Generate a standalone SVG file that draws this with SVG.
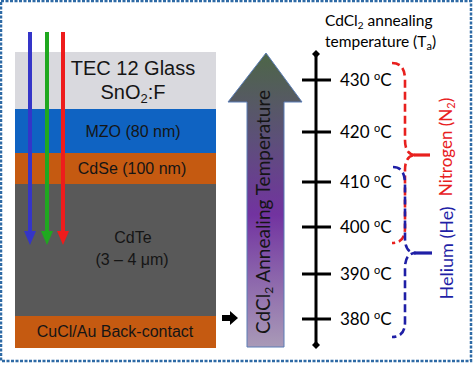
<svg xmlns="http://www.w3.org/2000/svg" width="474" height="365" viewBox="0 0 474 365">
<defs>
<linearGradient id="ag" gradientUnits="userSpaceOnUse" x1="0" y1="53" x2="0" y2="347">
<stop offset="0" stop-color="#4d6647"/>
<stop offset="0.3" stop-color="#5d4f7a"/>
<stop offset="0.55" stop-color="#7233a0"/>
<stop offset="0.75" stop-color="#8a62ab"/>
<stop offset="1" stop-color="#a99ab7"/>
</linearGradient>
</defs>
<style>
.lay{font-family:"Liberation Sans",Arial,sans-serif;fill:#151515;text-anchor:middle}
.cal{font-family:Lato,"Open Sans",sans-serif}
.tick{stroke:#000;stroke-width:3}
.lbl{font-family:Lato,"Open Sans",sans-serif;font-size:17px;fill:#000}
.brace{fill:none;stroke-width:2.6;stroke-dasharray:8 4}
.stub{stroke-width:3.2}
</style>
<rect x="1" y="1" width="470" height="360" fill="#fff" stroke="#2e6aa5" stroke-width="2.5" stroke-dasharray="3 1.5"/>

<g id="layer-glass">
<rect x="15" y="52" width="201" height="57" fill="#d9d9de"/>
<text class="lay" x="133" y="75" font-size="20">TEC 12 Glass</text>
<text class="lay" x="133" y="99" font-size="20">SnO<tspan font-size="13" dy="4">2</tspan><tspan dy="-4">:F</tspan></text>
</g>
<g id="layer-mzo">
<rect x="15" y="109" width="201" height="44" fill="#0f63c2"/>
<text class="lay" x="133" y="137" font-size="16">MZO (80 nm)</text>
</g>
<g id="layer-cdse">
<rect x="15" y="153" width="201" height="31" fill="#c55a11"/>
<text class="lay" x="132" y="174" font-size="16">CdSe (100 nm)</text>
</g>
<g id="layer-cdte">
<rect x="15" y="184" width="201" height="132" fill="#595959"/>
<text class="lay" x="133" y="243" font-size="16">CdTe</text>
<text class="lay" x="132" y="265" font-size="16">(3 – 4 μm)</text>
</g>
<g id="layer-backcontact">
<rect x="15" y="316" width="201" height="32" fill="#c55a11"/>
<text class="lay" x="115" y="337" font-size="16">CuCl/Au Back-contact</text>
</g>

<g id="connectors">
<g id="light-arrows">
<line x1="30" y1="32" x2="30" y2="233" stroke="#3535c8" stroke-width="4"/>
<polygon points="24,231 36,231 30,245" fill="#3535c8"/>
<line x1="47" y1="32" x2="47" y2="233" stroke="#1fa81f" stroke-width="4"/>
<polygon points="41,231 53,231 47,245" fill="#1fa81f"/>
<line x1="63" y1="32" x2="63" y2="233" stroke="#ee1c1c" stroke-width="4"/>
<polygon points="57,231 69,231 63,245" fill="#ee1c1c"/>
</g>
<polygon id="pointer" points="222,315 230,315 230,311 238,318 230,325 230,321 222,321" fill="#000"/>
<g id="braces">
<path class="brace" stroke="#e8201e" d="M392,63 Q405,63 405,80 L405,140 Q405,155 416,155 Q405,155 405,170 L405,228 Q405,243 392,243"/>
<line class="stub" stroke="#e8201e" x1="414" y1="155" x2="430" y2="155"/>
<path class="brace" stroke="#1f1fa6" d="M393,167 Q405,167 405,184 L405,238 Q405,253 416,253 Q405,253 405,268 L405,322 Q405,337 392,337"/>
<line class="stub" stroke="#1f1fa6" x1="414" y1="253" x2="432" y2="253"/>
</g>
</g>

<g id="anneal-arrow">
<polygon points="266,53 302,102 284,102 284,347 247,347 247,102 228,102" fill="url(#ag)" stroke="#5b7db5" stroke-width="1"/>
<text class="cal" transform="translate(270,212) rotate(-90)" text-anchor="middle" font-size="19" fill="#151515">CdCl<tspan font-size="12" dy="3">2</tspan><tspan dy="-3"> Annealing Temperature</tspan></text>
</g>

<g id="axis">
<line x1="316" y1="55" x2="316" y2="344" stroke="#000" stroke-width="3"/>
<polygon points="316,50 320,54 316,58 312,54" fill="#000"/>
<polygon points="316,341 320,345 316,349 312,345" fill="#000"/>
<line class="tick" x1="302" y1="80" x2="331" y2="80"/>
<line class="tick" x1="302" y1="132" x2="331" y2="132"/>
<line class="tick" x1="302" y1="182" x2="331" y2="182"/>
<line class="tick" x1="302" y1="227" x2="331" y2="227"/>
<line class="tick" x1="302" y1="274" x2="331" y2="274"/>
<line class="tick" x1="302" y1="319" x2="331" y2="319"/>
<text class="lbl" x="340" y="86">430 <tspan font-size="11" dy="-6">o</tspan><tspan dy="6">C</tspan></text>
<text class="lbl" x="340" y="138">420 <tspan font-size="11" dy="-6">o</tspan><tspan dy="6">C</tspan></text>
<text class="lbl" x="340" y="188">410 <tspan font-size="11" dy="-6">o</tspan><tspan dy="6">C</tspan></text>
<text class="lbl" x="340" y="233">400 <tspan font-size="11" dy="-6">o</tspan><tspan dy="6">C</tspan></text>
<text class="lbl" x="340" y="280">390 <tspan font-size="11" dy="-6">o</tspan><tspan dy="6">C</tspan></text>
<text class="lbl" x="340" y="325">380 <tspan font-size="11" dy="-6">o</tspan><tspan dy="6">C</tspan></text>
</g>

<g id="axis-title">
<text class="cal" x="325" y="26" font-size="15.5" fill="#000">CdCl<tspan font-size="10" dy="3">2</tspan><tspan dy="-3"> annealing</tspan></text>
<text class="cal" x="325" y="47" font-size="15.5" fill="#000">temperature (T<tspan font-size="11" dy="3">a</tspan><tspan dy="-3">)</tspan></text>
</g>

<g id="label-nitrogen">
<text class="cal" transform="translate(452,147) rotate(-90)" text-anchor="middle" font-size="17" fill="#e8201e">Nitrogen (N<tspan font-size="11" dy="3">2</tspan><tspan dy="-3">)</tspan></text>
</g>
<g id="label-helium">
<text class="cal" transform="translate(453,253) rotate(-90)" text-anchor="middle" font-size="18" fill="#1f1fa6">Helium (He)</text>
</g>
</svg>
